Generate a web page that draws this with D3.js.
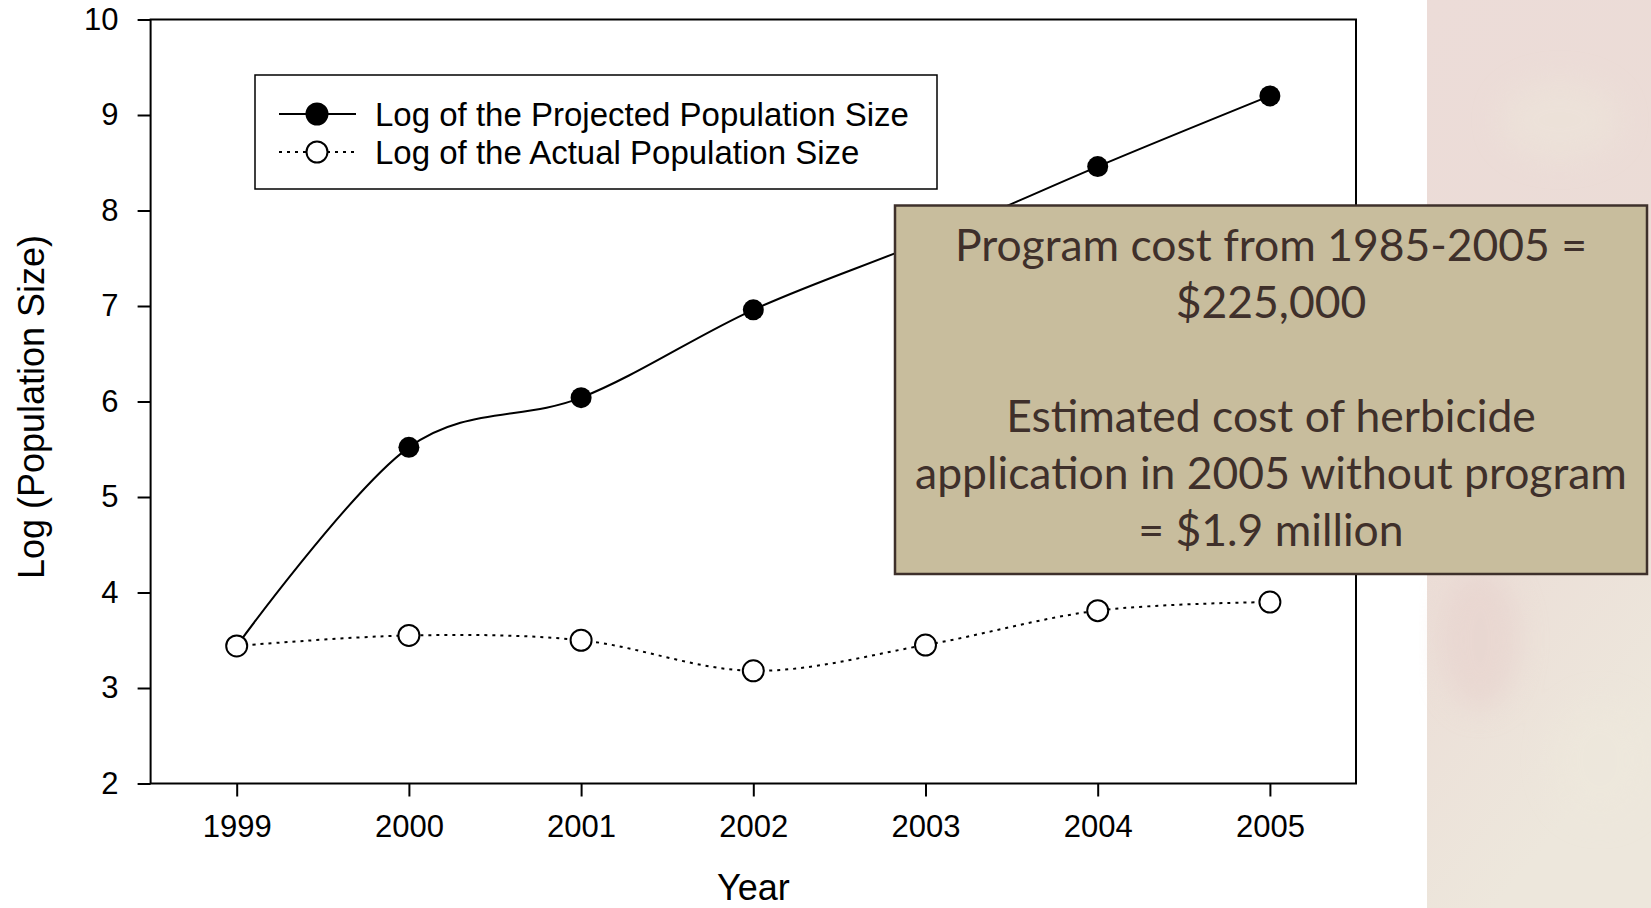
<!DOCTYPE html>
<html lang="en">
	<head>
		<meta charset="utf-8">
		<title>Projected vs actual population size</title>
		<script type="text/javascript" src="https://cdn.jsdelivr.net/npm/d3@7"></script>
		<style type="text/css">
			body { margin: 0; background: #fff; }
			text { font-family: "Liberation Sans", Arial, sans-serif; }
		</style>
	</head>
	<body>

		<div id="chart"></div>

		<script type="text/javascript">

		// data
		var years = [1999, 2000, 2001, 2002, 2003, 2004, 2005]
		var projected = [3.44, 5.52, 6.04, 6.96, 7.68, 8.46, 9.20]
		var actual = [3.44, 3.55, 3.50, 3.18, 3.45, 3.81, 3.90]
		var yTicks = [2, 3, 4, 5, 6, 7, 8, 9, 10]
		var seriesNames = ["Log of the Projected Population Size", "Log of the Actual Population Size"]
		var noteLines = ["Program cost from 1985-2005 =", "$225,000", "", "Estimated cost of herbicide", "application in 2005 without program", "= $1.9 million"]

		drawChart()

		function drawChart() {
				var w = 1651
				var h = 908

				var svg = d3.select("#chart")
						.append("svg")
						.attr("width", w)
						.attr("height", h)

				// pale background strip on the right
				var defs = svg.append("defs")
				var grad = defs.append("linearGradient")
						.attr("id", "strip")
						.attr("x1", 0).attr("y1", 0).attr("x2", 0.3).attr("y2", 1)
				grad.append("stop").attr("offset", "0%").attr("stop-color", "#ecdcd8")
				grad.append("stop").attr("offset", "55%").attr("stop-color", "#ebdcd6")
				grad.append("stop").attr("offset", "100%").attr("stop-color", "#ede7dc")
				defs.append("filter").attr("id", "blur")
						.append("feGaussianBlur").attr("stdDeviation", 14)

				svg.append("rect")
						.attr("x", 1427).attr("y", 0)
						.attr("width", w - 1427).attr("height", h)
						.style("fill", "url(#strip)")

				var blobs = svg.append("g").attr("filter", "url(#blur)").style("opacity", 0.5)
				blobs.append("ellipse").attr("cx", 1560).attr("cy", 120).attr("rx", 60).attr("ry", 40).style("fill", "#ede6da")
				blobs.append("ellipse").attr("cx", 1480).attr("cy", 640).attr("rx", 40).attr("ry", 70).style("fill", "#e6cfcb")
				blobs.append("ellipse").attr("cx", 1600).attr("cy", 760).attr("rx", 50).attr("ry", 60).style("fill", "#eee8dc")
				blobs.append("ellipse").attr("cx", 1520).attr("cy", 460).attr("rx", 70).attr("ry", 50).style("fill", "#e9d3cf")

				var padL = 150.6, padR = 1356, padT = 19.5, padB = 783.5

				var xScale = d3.scaleLinear()
						.domain([1998.5, 2005.5])
						.range([padL, padR])

				var yScale = d3.scaleLinear()
						.domain([2, 10])
						.range([padB, padT])

				var xAxis = d3.axisBottom(xScale)
						.tickValues(years)
						.tickFormat(d3.format("d"))
						.tickSize(13)
						.tickPadding(18)

				var yAxis = d3.axisLeft(yScale)
						.tickValues(yTicks)
						.tickSize(13)
						.tickPadding(19)

				var gx = svg.append("g")
						.attr("transform", "translate(0," + padB + ")")
						.call(xAxis)
				var gy = svg.append("g")
						.attr("transform", "translate(" + padL + ",0)")
						.call(yAxis)

				;[gx, gy].forEach(function(g) {
						g.select(".domain").remove()
						g.selectAll(".tick line").attr("stroke", "#000").attr("stroke-width", 2)
						g.selectAll(".tick text")
								.style("font-family", "'Liberation Sans', Arial, sans-serif")
								.style("font-size", "31px")
								.attr("fill", "#000")
				})

				// plot frame
				svg.append("rect")
						.attr("x", padL).attr("y", padT)
						.attr("width", padR - padL).attr("height", padB - padT)
						.style("fill", "none")
						.style("stroke", "#000")
						.style("stroke-width", 2)

				// axis titles
				svg.append("text")
						.attr("x", (padL + padR) / 2)
						.attr("y", 900)
						.attr("text-anchor", "middle")
						.style("font-size", "36px")
						.text("Year")

				svg.append("text")
						.attr("transform", "translate(44,407) rotate(-90)")
						.attr("text-anchor", "middle")
						.style("font-size", "36px")
						.text("Log (Population Size)")

				var line = d3.line()
						.curve(d3.curveCardinal.tension(0))
						.x(function(d, i) { return xScale(years[i]) })
						.y(function(d) { return yScale(d) })

				var r = 10.5

				// projected: solid line, filled dots
				svg.append("path")
						.datum(projected)
						.attr("d", line)
						.style("fill", "none")
						.style("stroke", "#000")
						.style("stroke-width", 2)
				svg.selectAll("circle.proj")
						.data(projected)
						.enter()
						.append("circle")
						.attr("class", "proj")
						.attr("cx", function(d, i) { return xScale(years[i]) })
						.attr("cy", function(d) { return yScale(d) })
						.attr("r", r)
						.style("fill", "#000")

				// actual: dotted line, open dots
				svg.append("path")
						.datum(actual)
						.attr("d", line)
						.style("fill", "none")
						.style("stroke", "#000")
						.style("stroke-width", 2)
						.style("stroke-dasharray", "3,5")
				svg.selectAll("circle.act")
						.data(actual)
						.enter()
						.append("circle")
						.attr("class", "act")
						.attr("cx", function(d, i) { return xScale(years[i]) })
						.attr("cy", function(d) { return yScale(d) })
						.attr("r", r)
						.style("fill", "#fff")
						.style("stroke", "#000")
						.style("stroke-width", 2)

				// legend
				var legend = svg.append("g")
				legend.append("rect")
						.attr("x", 255).attr("y", 75)
						.attr("width", 682).attr("height", 114)
						.style("fill", "#fff")
						.style("stroke", "#000")
						.style("stroke-width", 1.5)

				var rows = legend.selectAll("g.row")
						.data(seriesNames)
						.enter()
						.append("g")
						.attr("class", "row")
						.attr("transform", function(d, i) { return "translate(0," + (114 + i * 38) + ")" })

				rows.append("line")
						.attr("x1", 279).attr("x2", 356)
						.style("stroke", "#000")
						.style("stroke-width", 2)
						.style("stroke-dasharray", function(d, i) { return i == 0 ? null : "3,5" })
				rows.append("circle")
						.attr("cx", 317)
						.attr("r", r)
						.style("fill", function(d, i) { return i == 0 ? "#000" : "#fff" })
						.style("stroke", "#000")
						.style("stroke-width", 2)
				rows.append("text")
						.attr("x", 375)
						.attr("dy", "0.36em")
						.style("font-size", "33px")
						.text(function(d) { return d })

				// annotation box
				var note = svg.append("g")
				note.append("rect")
						.attr("x", 895).attr("y", 205.5)
						.attr("width", 752).attr("height", 368.5)
						.style("fill", "#c8bd9d")
						.style("stroke", "#3e302b")
						.style("stroke-width", 2.5)

				var noteText = note.selectAll("text")
						.data(noteLines)
						.enter()
						.append("text")
						.attr("x", 1271)
						.attr("y", function(d, i) { return 261 + i * 57 })
						.attr("text-anchor", "middle")
						.style("font-family", "Lato, 'Open Sans', sans-serif")
						.style("font-size", "46px")
						.style("fill", "#3f302b")
						.text(function(d) { return d })

				// fit the longest line to the width seen in the picture
				var widest = d3.max(noteText.nodes(), function(n) { return n.getComputedTextLength() })
				noteText.style("font-size", (46 * 712 / widest) + "px")
		}

		</script>
	</body>
</html>
